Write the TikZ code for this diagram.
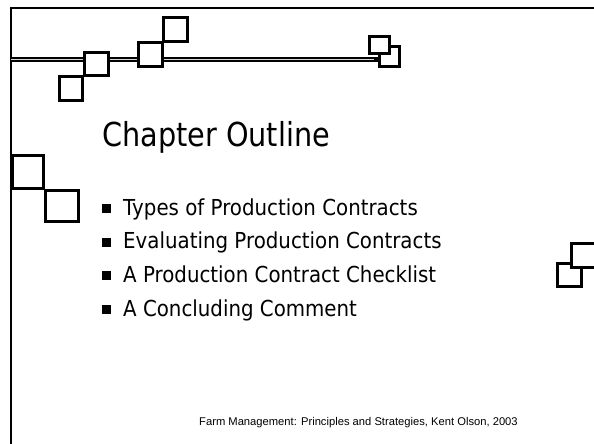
\documentclass[tikz,border=0pt]{standalone}
\usepackage{fontspec}
\newfontfamily\slidefont[FakeStretch=0.9]{DejaVu Sans}
\newfontfamily\titlefont[FakeStretch=0.87]{DejaVu Sans}
\newfontfamily\footfont{Liberation Sans}

\begin{document}
\begin{tikzpicture}[x=1pt,y=-1pt,line join=miter,
    frame/.style={line width=2pt},
    deco/.style={line width=2.8pt,fill=white},
    bulletbox/.style={fill=black,minimum size=9pt,inner sep=0pt},
    item/.style={anchor=base west,inner sep=0pt,font=\slidefont\fontsize{22}{22}\selectfont}]

    \useasboundingbox (0,0) rectangle (594,444);
    \clip (0,0) rectangle (594,444);

    % --------------------------------------------------------- %
    % ------------- frame and double rule
    % --------------------------------------------------------- %
    \draw[frame] (11,444) -- (11,8) -- (594,8);
    \draw[line width=5pt] (11,59.5) -- (378,59.5);
    \draw[line width=1.1pt,gray!30] (11,59.3) -- (374,59.3);

    % --------------------------------------------------------- %
    % ------------- squares
    % --------------------------------------------------------- %
    \draw[deco] (59.4,76.4) rectangle (82.6,100.6);
    \draw[deco] (84.4,52.4) rectangle (108.6,75.6);
    \draw[deco] (138.4,42.4) rectangle (162.6,66.6);
    \draw[deco] (163.4,17.4) rectangle (187.6,41.6);
    \draw[deco] (379.4,46.4) rectangle (399.6,66.6);
    \draw[deco] (369.4,36.4) rectangle (389.6,53.6);

    \draw[deco] (12.4,155.4) rectangle (43.6,188.6);
    \draw[deco] (45.4,190.4) rectangle (78.6,221.6);

    \draw[deco] (557.4,263.4) rectangle (581.6,286.6);
    \draw[deco] (571.4,243.4) rectangle (598,267.6);

    % --------------------------------------------------------- %
    % ------------- title and items
    % --------------------------------------------------------- %
    \node[anchor=base west,inner sep=0pt,font=\titlefont\fontsize{33}{33}\selectfont] (title) at (102,146) {Chapter Outline};

    \foreach \txt [count=\i] in {Types of Production Contracts,Evaluating Production Contracts,A Production Contract Checklist,A Concluding Comment}{
      \node[item] (item\i) at (123,{215+33.7*(\i-1)}) {\txt};
      \node[bulletbox] (bul\i) at (106.5,{208.5+33.7*(\i-1)}) {};
    }

    % --------------------------------------------------------- %
    % ------------- footer
    % --------------------------------------------------------- %
    \node[anchor=base west,inner sep=0pt,font=\footfont\fontsize{11.2}{11.2}\selectfont] (credit) at (199,425) {Farm Management: Principles and Strategies, Kent Olson, 2003};

\end{tikzpicture}
\end{document}
